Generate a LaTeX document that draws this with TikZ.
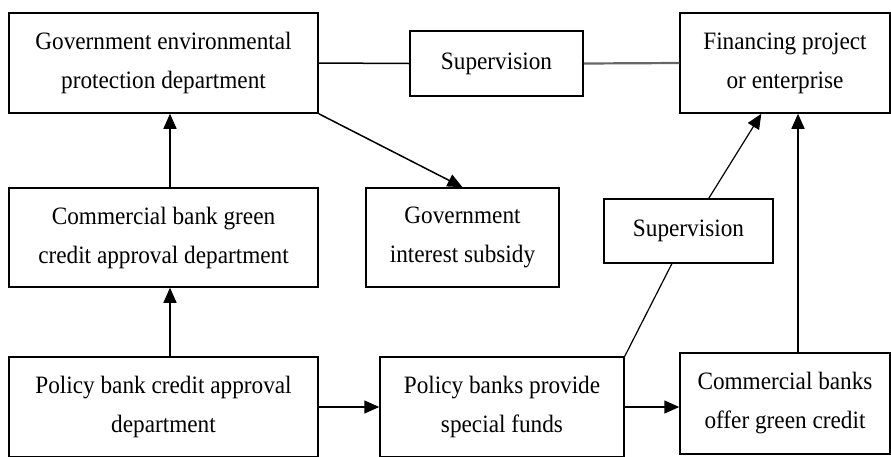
\documentclass[tikz,border=0pt]{standalone}
\usepackage{fontspec}
\setmainfont{Liberation Serif}[FakeStretch=0.93]
\usetikzlibrary{arrows.meta}

\begin{document}
\begin{tikzpicture}[x=1pt, y=-1pt, line width=1.5pt,
            every node/.style = {draw, align=center, inner sep=0pt,
                font=\fontsize{25}{39}\selectfont},
            arr/.style = {-{Triangle[length=15pt,width=13pt]}}]
\clip (0,0) rectangle (891,456);

% top row
\node[minimum width=309pt, minimum height=100pt] (gov) at (163.5,63)
    {Government environmental\\protection department};
\node[minimum width=173pt, minimum height=65pt] (sup1) at (496.5,63.5) {Supervision};
\node[minimum width=210pt, minimum height=100pt] (fin) at (785,63)
    {Financing project\\or enterprise};

% middle row
\node[minimum width=309pt, minimum height=99pt] (cbank) at (163.5,237.5)
    {Commercial bank green\\credit approval department};
\node[minimum width=193pt, minimum height=99pt] (subsidy) at (462.5,237.5)
    {Government\\interest subsidy};
\node[minimum width=169pt, minimum height=64pt, fill=white] (sup2) at (688.5,231) {Supervision};

% bottom row
\node[minimum width=309pt, minimum height=100pt] (pbank) at (163.5,407)
    {Policy bank credit approval\\department};
\node[minimum width=244pt, minimum height=100pt] (funds) at (502,407)
    {Policy banks provide\\special funds};
\node[minimum width=210pt, minimum height=101pt] (credit) at (785,403.5)
    {Commercial banks\\offer green credit};

\draw (gov.east) -- (sup1.west);
\draw[black!60, line width=2.2pt] (sup1.east) -- (fin.west);
\draw[arr] (gov.south east) -- (subsidy.north);
\draw[arr] ([xshift=6.5pt]cbank.north) -- ([xshift=6.5pt]gov.south);
\draw[arr] ([xshift=6.5pt]pbank.north) -- ([xshift=6.5pt]cbank.south);
\draw[arr] (pbank.east) -- (funds.west);
\draw[arr] (funds.east) -- (funds.east -| credit.west);
\draw[line width=1.2pt] (funds.north east) -- (sup2);
\draw[arr, line width=1.2pt] (sup2) -- (fin.245);
\draw[arr] ([xshift=13pt]credit.north) -- ([xshift=13pt]credit.north |- fin.south);

\end{tikzpicture}
\end{document}
